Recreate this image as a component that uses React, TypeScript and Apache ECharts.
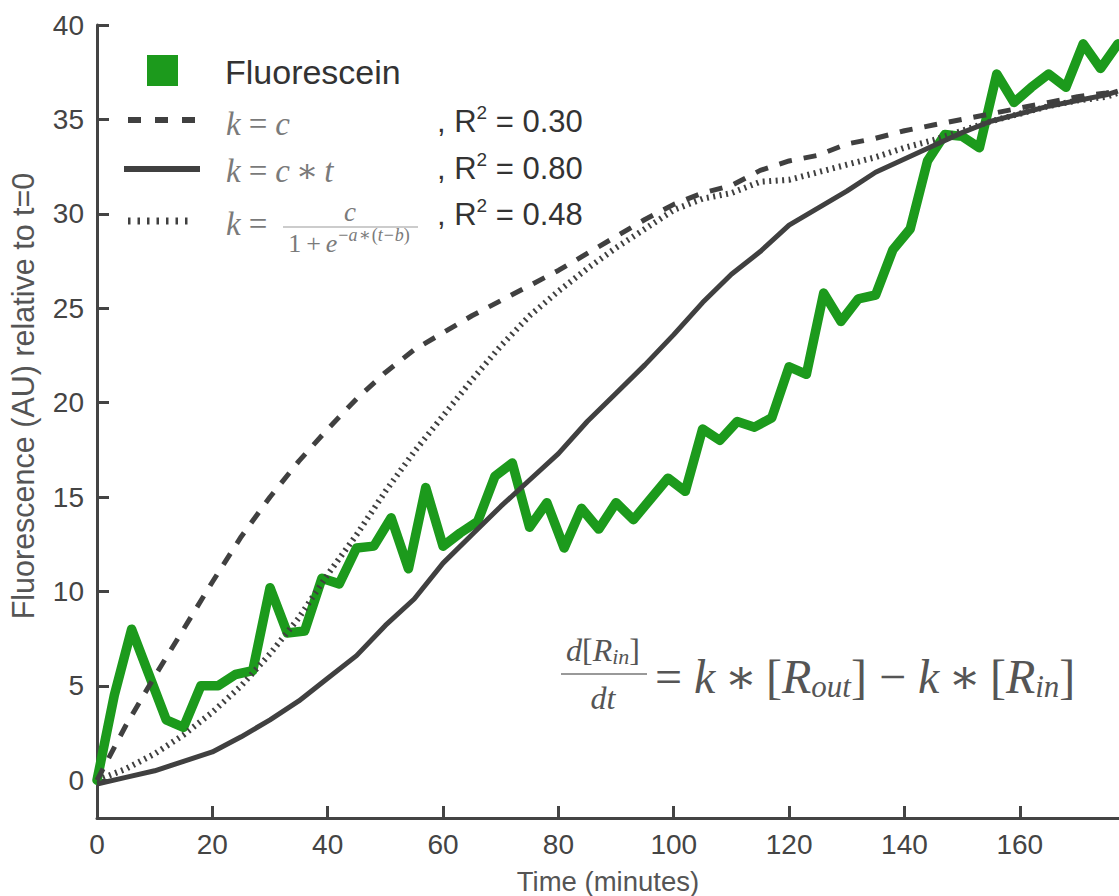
import React, { useEffect, useRef } from "react";
import * as echarts from "echarts";

// ---------- data ----------
const fluorTimes = [
  0, 3, 6, 9, 12, 15, 18, 21, 24, 27, 30, 33, 36, 39, 42, 45, 48, 51, 54, 57,
  60, 63, 66, 69, 72, 75, 78, 81, 84, 87, 90, 93, 96, 99, 102, 105, 108, 111, 114, 117,
  120, 123, 126, 129, 132, 135, 138, 141, 144, 147, 150, 153, 156, 159, 162, 165, 168, 171, 174, 177,
];
const fluorValues = [
  0, 4.5, 8.0, 5.6, 3.2, 2.8, 5.0, 5.0, 5.6, 5.8, 10.2, 7.8, 7.9, 10.7, 10.4, 12.3, 12.4, 13.9, 11.2, 15.5,
  12.4, 13.1, 13.7, 16.1, 16.8, 13.4, 14.7, 12.3, 14.4, 13.3, 14.7, 13.8, 14.9, 16.0, 15.3, 18.6, 18.0, 19.0, 18.7, 19.2,
  21.9, 21.5, 25.8, 24.3, 25.5, 25.7, 28.1, 29.2, 32.8, 34.2, 34.1, 33.5, 37.4, 35.9, 36.7, 37.4, 36.7, 39.0, 37.7, 39.0,
];
const modelTimes = [
  0, 5, 10, 15, 20, 25, 30, 35, 40, 45, 50, 55, 60, 65, 70, 75, 80, 85, 90, 95,
  100, 105, 110, 115, 120, 125, 130, 135, 140, 145, 150, 155, 160, 165, 170, 175, 177,
];
// k = c
const constK = [
  0, 2.9, 5.5, 8.0, 10.5, 12.9, 15.0, 16.9, 18.6, 20.2, 21.6, 22.8, 23.7, 24.6, 25.4, 26.2, 27.0, 27.9, 28.8, 29.7,
  30.5, 31.1, 31.5, 32.3, 32.8, 33.1, 33.7, 34.0, 34.4, 34.7, 35.0, 35.3, 35.6, 35.9, 36.2, 36.4, 36.5,
];
// k = c * t
const linearK = [
  -0.2, 0.15, 0.5, 1.0, 1.5, 2.3, 3.2, 4.2, 5.4, 6.6, 8.2, 9.6, 11.5, 13.0, 14.5, 15.9, 17.3, 19.0, 20.5, 22.0,
  23.6, 25.3, 26.8, 28.0, 29.4, 30.3, 31.2, 32.2, 32.9, 33.6, 34.3, 34.9, 35.3, 35.7, 36.0, 36.3, 36.5,
];
// k = c / (1 + e^{-a(t-b)})
const logisticK = [
  0, 0.6, 1.4, 2.4, 3.6, 5.0, 6.7, 8.6, 10.9, 13.0, 15.3, 17.4, 19.3, 21.2, 23.0, 24.6, 25.9, 27.1, 28.2, 29.2,
  30.2, 30.8, 31.1, 31.7, 31.8, 32.2, 32.6, 33.0, 33.5, 33.9, 34.4, 34.9, 35.3, 35.7, 36.0, 36.2, 36.4,
];
const xTickValues = [0, 20, 40, 60, 80, 100, 120, 140, 160];
const yTickValues = [0, 5, 10, 15, 20, 25, 30, 35, 40];
const seriesNames = ["Fluorescein", "k = c", "k = c * t", "k = logistic"];
const r2Labels = ["0.30", "0.80", "0.48"];

// ---------- styles ----------
const GREEN = "#1c9a1c";
const DARK = "#404040";
const AXIS = "#444444";
const SANS = '"Liberation Sans", Arial, Helvetica, sans-serif';
const SERIF = '"Liberation Serif", "DejaVu Serif", serif';
const MATH_GRAY = "#7a7a7a";

let measureCtx: CanvasRenderingContext2D | null = null;
function measure(text: string, size: number, italic: boolean, family: string) {
  if (!measureCtx) measureCtx = document.createElement("canvas").getContext("2d");
  if (!measureCtx) return text.length * size * 0.5;
  measureCtx.font = `${italic ? "italic " : ""}${size}px ${family}`;
  return measureCtx.measureText(text).width;
}

type Part = { t: string; s: number; i?: boolean; dy?: number; gap?: number; f?: string };

function run(x: number, y: number, parts: Part[], color: string, align: "left" | "center" = "left") {
  const widths = parts.map((p) => measure(p.t, p.s, !!p.i, p.f || SERIF));
  const total = widths.reduce((a, w, k) => a + w + (parts[k].gap || 0), 0);
  let cx = align === "center" ? x - total / 2 : x;
  const els: any[] = [];
  parts.forEach((p, k) => {
    els.push({
      type: "text",
      x: cx,
      y: y + (p.dy || 0),
      silent: true,
      style: {
        text: p.t,
        fontSize: p.s,
        fontFamily: p.f || SERIF,
        fontStyle: p.i ? "italic" : "normal",
        fill: color,
        textAlign: "left",
        textVerticalAlign: "middle",
        align: "left",
        verticalAlign: "middle",
      },
    });
    cx += widths[k] + (p.gap || 0);
  });
  return els;
}

function buildGraphics() {
  const g: any[] = [];
  // legend: Fluorescein
  g.push({ type: "rect", shape: { x: 147, y: 55, width: 31, height: 31 }, style: { fill: GREEN } });
  g.push(...run(225, 72, [{ t: seriesNames[0], s: 34, f: SANS }], "#333"));
  // legend line samples
  g.push({ type: "line", shape: { x1: 128, y1: 120, x2: 195, y2: 120 }, style: { stroke: DARK, lineWidth: 6, lineDash: [13, 14] } });
  g.push({ type: "line", shape: { x1: 124, y1: 169, x2: 200, y2: 169 }, style: { stroke: DARK, lineWidth: 6 } });
  g.push({ type: "line", shape: { x1: 128, y1: 221, x2: 194, y2: 221 }, style: { stroke: DARK, lineWidth: 7, lineDash: [2.5, 7] } });
  // legend math
  g.push(...run(226, 124, [{ t: "k", s: 33, i: true, gap: 8 }, { t: "=", s: 33, gap: 8 }, { t: "c", s: 33, i: true }], MATH_GRAY));
  g.push(
    ...run(226, 171, [
      { t: "k", s: 33, i: true, gap: 8 },
      { t: "=", s: 33, gap: 8 },
      { t: "c", s: 33, i: true, gap: 6 },
      { t: "∗", s: 33, gap: 6 },
      { t: "t", s: 33, i: true },
    ], MATH_GRAY)
  );
  g.push(...run(226, 224, [{ t: "k", s: 33, i: true, gap: 8 }, { t: "=", s: 33 }], MATH_GRAY));
  g.push(...run(350, 212, [{ t: "c", s: 27, i: true }], MATH_GRAY, "center"));
  g.push({ type: "line", shape: { x1: 283, y1: 227, x2: 418, y2: 227 }, style: { stroke: "#999", lineWidth: 1.2 } });
  g.push(
    ...run(349, 243, [
      { t: "1", s: 26, gap: 5 },
      { t: "+", s: 26, gap: 5 },
      { t: "e", s: 26, i: true, gap: 1 },
      { t: "−", s: 18, dy: -8 },
      { t: "a", s: 18, i: true, dy: -8, gap: 1 },
      { t: "∗", s: 18, dy: -8, gap: 1 },
      { t: "(", s: 18, dy: -8 },
      { t: "t", s: 18, i: true, dy: -8, gap: 1 },
      { t: "−", s: 18, dy: -8, gap: 1 },
      { t: "b", s: 18, i: true, dy: -8 },
      { t: ")", s: 18, dy: -8 },
    ], MATH_GRAY, "center")
  );
  // R^2 texts
  const r2Y = [121, 168, 214];
  r2Labels.forEach((lab, k) => {
    g.push(
      ...run(437, r2Y[k], [
        { t: ", R", s: 31, f: SANS },
        { t: "2", s: 19, f: SANS, dy: -9 },
        { t: " = " + lab, s: 31, f: SANS },
      ], "#333")
    );
  });
  // main equation
  const EQ = "#555";
  g.push(
    ...run(603, 650, [
      { t: "d", s: 32, i: true },
      { t: "[", s: 32 },
      { t: "R", s: 32, i: true },
      { t: "in", s: 22, i: true, dy: 6 },
      { t: "]", s: 32 },
    ], EQ, "center")
  );
  g.push({ type: "line", shape: { x1: 561, y1: 674, x2: 647, y2: 674 }, style: { stroke: "#777", lineWidth: 1.5 } });
  g.push(...run(603, 698, [{ t: "dt", s: 32, i: true }], EQ, "center"));
  g.push(
    ...run(655, 676, [
      { t: "=", s: 48, gap: 12 },
      { t: "k", s: 48, i: true, gap: 9 },
      { t: "∗", s: 48, gap: 9 },
      { t: "[", s: 48 },
      { t: "R", s: 48, i: true },
      { t: "out", s: 31, i: true, dy: 10 },
      { t: "]", s: 48, gap: 12 },
      { t: "−", s: 48, gap: 12 },
      { t: "k", s: 48, i: true, gap: 9 },
      { t: "∗", s: 48, gap: 9 },
      { t: "[", s: 48 },
      { t: "R", s: 48, i: true },
      { t: "in", s: 31, i: true, dy: 10 },
      { t: "]", s: 48 },
    ], EQ)
  );
  // y axis title
  g.push({
    type: "text",
    x: 23,
    y: 396,
    rotation: Math.PI / 2,
    silent: true,
    style: {
      text: "Fluorescence (AU) relative to t=0",
      fontSize: 30.5,
      fontFamily: SANS,
      fill: "#555",
      textAlign: "center",
      textVerticalAlign: "middle",
      align: "center",
      verticalAlign: "middle",
    },
  });
  return g;
}

function zip(xs: number[], ys: number[]) {
  return xs.map((x, k) => [x, ys[k]]);
}

export default function App() {
  const ref = useRef<HTMLDivElement>(null);
  useEffect(() => {
    if (!ref.current) return;
    const chart = echarts.init(ref.current, undefined, { renderer: "svg" });
    const axisCommon = {
      type: "value" as const,
      axisLine: { show: true, onZero: false, lineStyle: { color: AXIS, width: 3 } },
      axisTick: { show: true, inside: true, length: 12, lineStyle: { color: AXIS, width: 3 } },
      splitLine: { show: false },
    };
    chart.setOption({
      animation: false,
      backgroundColor: "#ffffff",
      grid: { left: 97, right: 0, top: 25, bottom: 78, containLabel: false, outerBoundsMode: "none" },
      xAxis: {
        ...axisCommon,
        min: 0,
        max: 177.2,
        axisTick: { ...axisCommon.axisTick, customValues: xTickValues },
        axisLabel: { customValues: xTickValues, fontSize: 28, color: AXIS, fontFamily: SANS, margin: 12 },
        name: "Time (minutes)",
        nameLocation: "middle",
        nameGap: 49,
        nameTextStyle: { fontSize: 27.5, color: "#555", fontFamily: SANS },
      },
      yAxis: {
        ...axisCommon,
        min: -2,
        max: 40,
        axisTick: { ...axisCommon.axisTick, customValues: yTickValues },
        axisLabel: { customValues: yTickValues, fontSize: 28, color: AXIS, fontFamily: SANS, margin: 13 },
      },
      series: [
        {
          name: seriesNames[0],
          type: "line",
          data: zip(fluorTimes, fluorValues),
          symbol: "none",
          lineStyle: { color: GREEN, width: 9.5, cap: "round", join: "round" },
          z: 2,
        },
        {
          name: seriesNames[1],
          type: "line",
          data: zip(modelTimes, constK),
          symbol: "none",
          lineStyle: { color: DARK, width: 5, type: [13, 12] },
          z: 3,
        },
        {
          name: seriesNames[2],
          type: "line",
          data: zip(modelTimes, linearK),
          symbol: "none",
          lineStyle: { color: DARK, width: 5 },
          z: 3,
        },
        {
          name: seriesNames[3],
          type: "line",
          data: zip(modelTimes, logisticK),
          symbol: "none",
          lineStyle: { color: DARK, width: 6, type: [2, 4.5] },
          z: 3,
        },
      ],
      graphic: buildGraphics(),
    });
    return () => chart.dispose();
  }, []);
  return <div ref={ref} style={{ position: "absolute", left: 0, top: 0, width: 1119, height: 896 }} />;
}
